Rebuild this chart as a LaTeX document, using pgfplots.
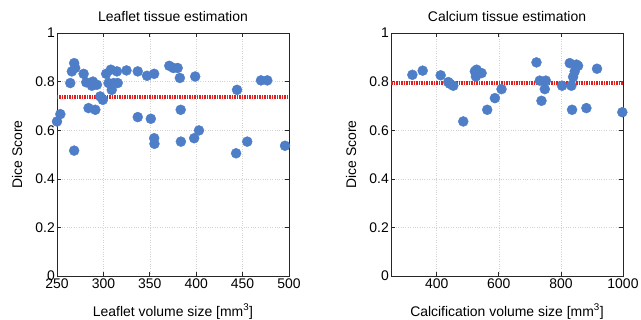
\documentclass[border=0pt]{standalone}
\usepackage{fontspec}
\setmainfont{Liberation Sans}
\usepackage{pgfplots}
\pgfplotsset{compat=1.18}
\definecolor{dotblue}{RGB}{78,126,199}
\definecolor{meanred}{RGB}{228,28,28}
\definecolor{axgray}{RGB}{38,38,38}
\pgfplotsset{
  myax/.style={
    scale only axis, width=232bp, height=243bp,
    ymin=0, ymax=1,
    ytick={0,0.2,0.4,0.6,0.8,1},
    yticklabels={0,0.2,0.4,0.6,0.8,1},
    tick align=inside,
    xtick pos=both, ytick pos=both,
    major tick length=4bp,
    grid=major,
    major grid style={draw=gray!35, dotted, line width=0.5bp},
    axis line style={draw=axgray, line width=0.6bp},
    every tick/.style={draw=axgray, line width=0.6bp},
    tick label style={font=\fontsize{14}{16}\selectfont, text=black},
    xticklabel style={inner sep=1bp, yshift=-1.5bp},
    yticklabel style={inner sep=1bp, xshift=-1bp},
    every axis title/.style={at={(axis description cs:0.5,1.0658)}, anchor=center, font=\fontsize{14}{16}\selectfont},
    every axis x label/.style={at={(axis description cs:0.5,-0.146)}, anchor=center, font=\fontsize{14}{16}\selectfont},
    every axis y label/.style={at={(axis description cs:-0.172,0.5)}, anchor=center, rotate=90, font=\fontsize{14}{16}\selectfont},
    /pgf/number format/assume math mode=true,
    ylabel={Dice Score},
    clip=false,
  },
  dots/.style={only marks, mark=*, mark size=5bp, mark options={draw=dotblue, fill=dotblue}},
  meanline/.style={meanred, line width=3.5bp, dash pattern=on 1.5bp off 1bp, no marks},
}
\begin{document}
\begin{tikzpicture}
\useasboundingbox (-57bp,-44bp) rectangle (584bp,276bp);
\begin{axis}[myax,
  xmin=250, xmax=500,
  xtick={250,300,350,400,450,500},
  xticklabels={250,300,350,400,450,500},
  title={Leaflet tissue estimation},
  xlabel={Leaflet volume size [mm\textsuperscript{3}]},
]
\addplot[dots] coordinates {
(250,0.636) (253.6,0.666) (264.3,0.794) (266,0.842) (268.5,0.876) (268.5,0.516)
(269.6,0.856) (278.7,0.832) (281.5,0.797) (284,0.691) (288.7,0.80) (287.6,0.783)
(291.3,0.684) (293,0.787) (296.6,0.739) (299.4,0.725) (303,0.832) (305.6,0.794)
(308,0.849) (309,0.766) (311,0.794) (314.6,0.842) (315.4,0.794) (324.9,0.846)
(337,0.842) (337,0.654) (347,0.824) (351.1,0.647) (354.7,0.832) (354.7,0.567)
(355,0.544) (371,0.865) (375.4,0.856) (380,0.856) (382.4,0.815) (383.3,0.684)
(383.5,0.553) (398.9,0.821) (397.8,0.567) (403,0.599) (444,0.766) (443,0.505)
(455,0.553) (469.8,0.805) (476.6,0.805) (495.7,0.536)
};
\addplot[meanline] coordinates {(250,0.736) (500,0.736)};
\end{axis}
\begin{axis}[myax, xshift=334bp,
  xmin=253, xmax=1000,
  xtick={400,600,800,1000},
  xticklabels={400,600,800,1000},
  title={Calcium tissue estimation},
  xlabel={Calcification volume size [mm\textsuperscript{3}]},
]
\addplot[dots] coordinates {
(321.8,0.828) (355,0.845) (412.9,0.826) (437.5,0.798) (442.8,0.791) (453.6,0.783)
(485.7,0.636) (523,0.842) (526.4,0.821) (528.6,0.849) (544.6,0.835) (562.8,0.684)
(587.5,0.732) (608.9,0.769) (721.4,0.879) (732,0.804) (737.5,0.721) (748.2,0.769)
(751.4,0.804) (803.9,0.783) (828.5,0.876) (833.9,0.783) (836,0.684) (839.3,0.819)
(844.6,0.842) (850,0.870) (855.3,0.865) (882.1,0.691) (916.3,0.853) (997.8,0.674)
};
\addplot[meanline] coordinates {(253,0.794) (1000,0.794)};
\end{axis}
\end{tikzpicture}
\end{document}
